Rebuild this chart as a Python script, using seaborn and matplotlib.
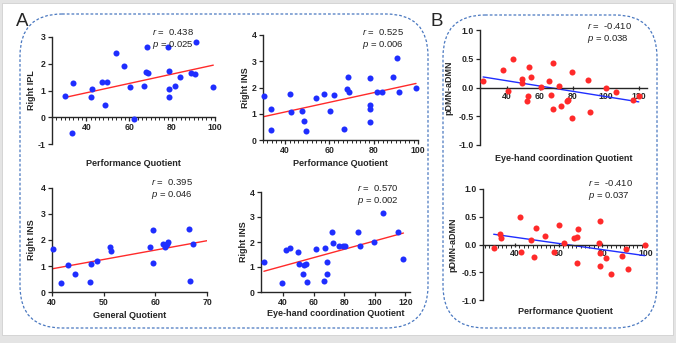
import numpy as np
import pandas as pd
import matplotlib
matplotlib.use("Agg")
import matplotlib.pyplot as plt
from matplotlib.patches import FancyBboxPatch, Rectangle
from matplotlib.ticker import MultipleLocator, FormatStrFormatter
import seaborn as sns

# A, top left: Right IPL vs Performance Quotient
pq_ipl = [30.2, 33.8, 33.3, 42.8, 42.3, 47.5, 49.5, 48.6, 54.0, 57.6, 60.2, 62.0, 66.8,
          68.2, 67.7, 68.7, 78.3, 78.6, 78.5, 78.5, 81.3, 83.8, 88.9, 90.5, 91.2, 99.2]
right_ipl = [0.78, 1.28, -0.58, 1.05, 0.77, 1.33, 1.30, 0.45, 2.42, 1.92, 1.12, -0.06, 1.18,
             2.61, 1.71, 1.64, 2.63, 1.73, 1.07, 0.74, 1.18, 1.49, 1.67, 1.62, 2.81, 1.12]

# A, top right: Right INS vs Performance Quotient
pq_ins = [30.3, 33.7, 33.4, 42.3, 42.7, 47.5, 48.6, 49.5, 54.0, 57.6, 60.3, 62.1, 66.7,
          68.2, 67.8, 68.7, 78.3, 78.5, 78.5, 78.5, 81.3, 83.8, 88.9, 90.4, 91.2, 99.1]
ins_pq = [1.68, 1.19, 0.39, 1.74, 1.05, 1.09, 0.71, 0.34, 1.60, 1.74, 1.12, 1.70, 0.43,
          2.41, 1.94, 1.83, 2.37, 1.32, 1.19, 0.70, 1.83, 1.84, 2.39, 3.14, 1.83, 1.99]

# A, bottom left: Right INS vs General Quotient
gq_ins = [40.1, 41.8, 43.0, 44.5, 47.3, 47.6, 48.8, 51.2, 51.5, 58.9, 59.6, 59.6, 61.4,
          61.9, 62.1, 62.3, 62.4, 66.5, 66.7, 67.3]
ins_gq = [1.67, 0.35, 1.04, 0.70, 0.38, 1.09, 1.19, 1.75, 1.58, 1.74, 2.38, 1.11, 1.84,
          1.73, 1.80, 1.85, 1.93, 2.42, 0.42, 1.83]

# A, bottom right: Right INS vs Eye-hand coordination Quotient
ehq_ins = [27.5, 39.1, 41.8, 44.6, 49.9, 50.3, 53.2, 53.8, 54.7, 55.6, 61.7, 66.5, 67.6,
           68.5, 68.5, 72.0, 72.9, 76.8, 79.5, 80.2, 88.9, 90.2, 99.2, 105.3, 115.2, 118.7]
ins_ehq = [1.20, 0.36, 1.69, 1.75, 1.60, 1.11, 0.71, 1.07, 1.12, 0.40, 1.72, 0.43, 1.75,
           1.19, 0.71, 2.39, 1.95, 1.84, 1.85, 1.84, 2.41, 1.84, 2.00, 3.15, 2.39, 1.32]

# B, top: pDMN-aDMN vs Eye-hand coordination Quotient
ehq_dmn = [25.5, 37.6, 40.4, 43.4, 48.8, 49.0, 53.1, 52.7, 52.3, 54.5, 60.7, 65.7, 67.0, 68.1,
           68.1, 71.4, 72.6, 76.6, 77.2, 79.6, 79.6, 89.0, 90.5, 99.9, 105.9, 116.4, 120.0]
dmn_ehq = [0.12, 0.30, -0.06, 0.50, 0.15, 0.075, 0.35, -0.14, -0.23, 0.19, 0.01, 0.12, -0.13, 0.43,
           -0.38, 0.02, -0.32, -0.24, -0.21, 0.27, -0.53, 0.13, -0.43, -0.01, -0.075, -0.21, -0.145]

# B, bottom: pDMN-aDMN vs Performance Quotient
pq_dmn = [30.2, 33.3, 33.6, 42.4, 42.8, 47.5, 48.7, 49.6, 53.9, 57.9, 60.2, 62.2, 66.9,
          68.5, 68.8, 68.2, 78.7, 78.4, 78.9, 78.7, 81.6, 84.1, 89.1, 90.7, 91.6, 99.4]
dmn_pq = [-0.055, 0.19, 0.12, 0.50, -0.14, 0.085, -0.22, 0.30, 0.15, -0.13, 0.35, 0.02, 0.115,
          0.13, 0.28, -0.33, 0.43, 0.025, -0.15, -0.38, -0.24, -0.53, -0.21, -0.085, -0.44, 0.0]

stats = ["$\\it{r}$ =  0.438\n$\\it{p}$ = 0.025",
         "$\\it{r}$ =  0.525\n$\\it{p}$ = 0.006",
         "$\\it{r}$ =  0.395\n$\\it{p}$ = 0.046",
         "$\\it{r}$ =  0.570\n$\\it{p}$ = 0.002",
         "$\\it{r}$ =  -0.410\n$\\it{p}$ = 0.038",
         "$\\it{r}$ =  -0.410\n$\\it{p}$ = 0.037"]

sns.set_style("ticks")
plt.rcParams['font.family'] = ['Liberation Sans', 'DejaVu Sans']
plt.rcParams['mathtext.fontset'] = 'custom'
plt.rcParams['mathtext.rm'] = 'Liberation Sans'
plt.rcParams['mathtext.it'] = 'Liberation Sans:italic'
plt.rcParams['axes.unicode_minus'] = False

W, H = 676, 343
fig = plt.figure(figsize=(W / 100, H / 100), dpi=100)
fig.patch.set_facecolor('#e4e4e4')

# background with the dashed rounded boxes, in pixel units
bg = fig.add_axes([0, 0, 1, 1])
bg.set_xlim(0, W)
bg.set_ylim(H, 0)
bg.axis('off')
bg.add_patch(Rectangle((2, 3), 671, 332, facecolor='white', edgecolor='#d0d0d0', lw=0.6))
box_kw = dict(facecolor='none', edgecolor='#4a78c0', lw=0.9, linestyle=(0, (2.2, 1.6)))
bg.add_patch(FancyBboxPatch((20, 14), 408, 314, boxstyle="round,pad=0,rounding_size=42", **box_kw))
bg.add_patch(FancyBboxPatch((443, 15), 214, 313, boxstyle="round,pad=0,rounding_size=42", **box_kw))
bg.text(16, 22, "A", fontsize=13.5, va='center', ha='left')
bg.text(431, 22, "B", fontsize=13.5, va='center', ha='left')


def panel(left, top, w, h, x, y, xlim, ylim, xticks, yticks, xlabel, ylabel,
          xlab_y, ylab_x, stat, stat_xy, dot, line, minor=None, zero_axis=False,
          truncate=True, yfmt=None, tickdir='out'):
    ax = fig.add_axes([left / W, 1 - (top + h) / H, w / W, h / H])
    ax.set_facecolor('none')
    ax.set_xlim(xlim)
    ax.set_ylim(ylim)
    df = pd.DataFrame({'x': x, 'y': y})
    sns.regplot(data=df, x='x', y='y', ax=ax, ci=None, truncate=truncate,
                scatter_kws=dict(s=19, color=dot, linewidths=0, alpha=1, clip_on=False, zorder=3),
                line_kws=dict(color=line, lw=1.0, zorder=2))
    ax.set_xlim(xlim)
    ax.set_ylim(ylim)
    sns.despine(ax=ax)
    if zero_axis:
        ax.spines['bottom'].set_position(('data', 0))
    for s in ['left', 'bottom']:
        ax.spines[s].set_linewidth(1.0)
    ax.set_xticks(xticks)
    ax.set_yticks(yticks)
    if minor:
        ax.xaxis.set_minor_locator(MultipleLocator(minor))
    if yfmt:
        ax.yaxis.set_major_formatter(FormatStrFormatter(yfmt))
    ax.tick_params(axis='x', which='major', length=3, width=0.9, direction=tickdir,
                   labelsize=6.3, pad=1.5)
    ax.tick_params(axis='x', which='minor', length=1.8, width=0.7, direction='out')
    ax.tick_params(axis='y', which='major', length=3, width=0.9, labelsize=6.3, pad=1.5)
    for lab in ax.get_xticklabels() + ax.get_yticklabels():
        lab.set_fontweight('bold')
    ax.set_xlabel(xlabel, fontsize=6.5, fontweight='bold', va='center')
    ax.set_ylabel(ylabel, fontsize=6.5, fontweight='bold', va='center')
    ax.xaxis.set_label_coords(0.5, -(xlab_y - (top + h)) / h)
    ax.yaxis.set_label_coords(-(left - ylab_x) / w, 0.5)
    fig.text(stat_xy[0] / W, 1 - stat_xy[1] / H, stat, fontsize=6.8, va='top', ha='left',
             linespacing=1.25, color='#222222')
    return ax


blue = '#1f2eff'
red = '#ff2a2a'

panel(52, 37, 163, 107, pq_ipl, right_ipl, (24, 100), (-1, 3), [40, 60, 80, 100],
      [-1, 0, 1, 2, 3], "Performance Quotient", "Right IPL", 163, 32, stats[0], (152, 27),
      blue, red, minor=2, zero_axis=True)
panel(263, 35, 155, 105, pq_ins, ins_pq, (30, 100), (0, 4), [40, 60, 80, 100],
      [0, 1, 2, 3, 4], "Performance Quotient", "Right INS", 163, 245, stats[1], (362, 27),
      blue, red, minor=2)
panel(52, 188, 155, 104, gq_ins, ins_gq, (40, 70), (0, 4), [40, 50, 60, 70],
      [0, 1, 2, 3, 4], "General Quotient", "Right INS", 315, 32, stats[2], (151, 177),
      blue, red, truncate=False)
panel(261, 192, 149, 100, ehq_ins, ins_ehq, (25.6, 123), (0, 4), [40, 60, 80, 100, 120],
      [0, 1, 2, 3, 4], "Eye-hand coordination Quotient", "Right INS", 313, 243, stats[3],
      (357, 183), blue, red)
panel(480, 30, 167, 115, ehq_dmn, dmn_ehq, (23.6, 125), (-1, 1), [40, 60, 80, 100, 120],
      [-1.0, -0.5, 0.0, 0.5, 1.0], "Eye-hand coordination Quotient", "pDMN-aDMN", 158, 449,
      stats[4], (587, 21), red, blue, zero_axis=True, yfmt='%.1f', tickdir='inout')
panel(483, 189, 164, 111, pq_dmn, dmn_pq, (25.3, 100.4), (-1, 1), [40, 60, 80, 100],
      [-1.0, -0.5, 0.0, 0.5, 1.0], "Performance Quotient", "pDMN-aDMN", 311, 453,
      stats[5], (588, 178), red, blue, minor=2, zero_axis=True, yfmt='%.1f', tickdir='inout')

fig.savefig("out.png", dpi=100, facecolor=fig.get_facecolor())
